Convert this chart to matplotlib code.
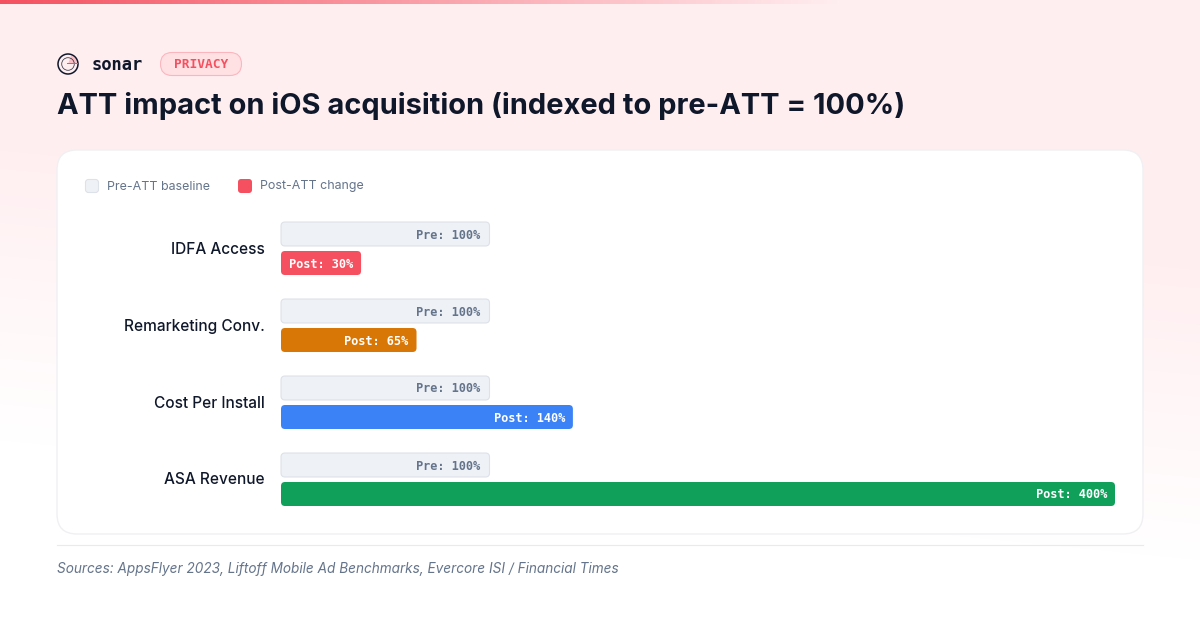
import numpy as np
import matplotlib
matplotlib.use("Agg")
import matplotlib.pyplot as plt
from matplotlib.patches import FancyBboxPatch, Circle, Wedge, Rectangle
from matplotlib.colors import to_rgb

categories = ["IDFA Access", "Remarketing Conv.", "Cost Per Install", "ASA Revenue"]
pre_values = [100, 100, 100, 100]
post_values = [30, 65, 140, 400]
post_colors = ["#F4505F", "#D97706", "#3B82F6", "#10A05A"]
title = "ATT impact on iOS acquisition (indexed to pre-ATT = 100%)"
source = "Sources: AppsFlyer 2023, Liftoff Mobile Ad Benchmarks, Evercore ISI / Financial Times"
legend_labels = ["Pre-ATT baseline", "Post-ATT change"]

W, H = 1200, 630
SANS = ["Inter", "DejaVu Sans"]
MONO = ["DejaVu Sans Mono"]
INK = "#0F172A"
SLATE = "#64748B"
RED = "#F4505F"
PRE_FILL = "#EEF1F6"
PRE_EDGE = "#DDE1E8"

fig = plt.figure(figsize=(W / 100, H / 100), dpi=100, facecolor="white")

# page layer in pixel coordinates
page = fig.add_axes([0, 0, 1, 1], zorder=0)
page.set_xlim(0, W)
page.set_ylim(H, 0)
page.axis("off")

yy, xx = np.mgrid[0:H, 0:W]
t = np.clip((yy + 0.10 * (W - xx)) / 560.0, 0, 1)
t = np.clip((t - 0.45) / 0.55, 0, 1)
top = np.array(to_rgb("#FFEEF0"))
bg = top[None, None, :] * (1 - t[..., None]) + t[..., None]
page.imshow(bg, extent=(0, W, H, 0), aspect="auto", zorder=0)

# top accent strip
strip = np.ones((1, W, 4))
strip[..., :3] = to_rgb(RED)
strip[..., 3] = np.clip(1 - np.arange(W) / 840.0, 0, 1)
page.imshow(strip, extent=(0, W, 4, 0), aspect="auto", zorder=1)
page.set_xlim(0, W)
page.set_ylim(H, 0)


def rrect(ax, x, y, w, h, r, fc, ec="none", lw=0.0, z=2):
    p = FancyBboxPatch((x, y), w, h, boxstyle=f"round,pad=0,rounding_size={r}",
                       fc=fc, ec=ec, lw=lw, zorder=z)
    ax.add_patch(p)
    return p


# logo
page.add_patch(Circle((68, 64), 10, fc="none", ec=INK, lw=1.1, zorder=3))
page.add_patch(Wedge((68, 64), 9, 290, 360, fc=RED, alpha=0.3, lw=0, zorder=3))
page.add_patch(Circle((68, 64), 6.3, fc="none", ec=INK, lw=0.6, alpha=0.8, zorder=3))
page.add_patch(Rectangle((67, 62.6), 11, 1.8, fc=RED, lw=0, zorder=4))
page.text(92, 64.5, "sonar", family=MONO, fontsize=12.3, fontweight="bold",
          color=INK, va="center", ha="left", zorder=3)

# badge
rrect(page, 160.5, 52.5, 81, 23, 11.5, "#FFE1E4", "#FBB6BD", 0.8)
page.text(201, 64, "PRIVACY", family=MONO, fontsize=9.3, fontweight="bold",
          color=RED, va="center", ha="center", zorder=3)

page.text(57, 105.5, title, family=SANS, fontsize=20.9, fontweight="bold",
          color=INK, va="center", ha="left", zorder=3)

# card
rrect(page, 57, 150, 1086, 384, 20, "white", "#F0F0F3", 1.0)

# legend
rrect(page, 85.5, 179.5, 13, 13, 3, PRE_FILL, PRE_EDGE, 0.8, z=3)
rrect(page, 238, 179, 14, 14, 3, RED, z=3)
page.text(107, 186.5, legend_labels[0], family=SANS, fontsize=8.95, color=SLATE,
          va="center", ha="left", zorder=3)
page.text(260, 186.5, legend_labels[1], family=SANS, fontsize=8.95, color=SLATE,
          va="center", ha="left", zorder=3)

# footer
page.plot([57, 1143], [544.5, 544.5], color="#EAEAEE", lw=0.8, zorder=3)
page.text(57, 569.5, source, family=SANS, fontsize=9.8, fontstyle="italic",
          color=SLATE, va="center", ha="left", zorder=3)

# chart layer: x maps 0-400 to px 281-1115, each row is 77 px
PX_L, PX_R, PX_T, PX_B = 281, 1115, 220, 528
ax = fig.add_axes([PX_L / W, 1 - PX_B / H, (PX_R - PX_L) / W, (PX_B - PX_T) / H],
                  zorder=2)
ax.set_xlim(0, 400)
ax.set_ylim(4, 0)
ax.axis("off")
ax.patch.set_alpha(0)

px_x = 400 / (PX_R - PX_L)
px_y = 1 / 77
aspect = px_y / px_x
min_post_width = 38.4  # bars never get narrower than their label
bar_h = 24 * px_y


def bar(xw, y, fc, ec="none", lw=0.0):
    p = FancyBboxPatch((0, y), xw, bar_h, boxstyle=f"round,pad=0,rounding_size={4 * px_x}",
                       mutation_aspect=aspect, fc=fc, ec=ec, lw=lw, zorder=2, clip_on=False)
    ax.add_patch(p)


for i, (cat, pre, post, col) in enumerate(zip(categories, pre_values, post_values, post_colors)):
    pre_y = i + 2 * px_y
    post_y = i + 31 * px_y
    bar(pre, pre_y, PRE_FILL, PRE_EDGE, 0.8)
    bar(max(post, min_post_width), post_y, col)
    ax.text(pre - 9.5 * px_x, pre_y + (bar_h - px_y) / 2, f"Pre: {pre}%", family=MONO, fontsize=8.6,
            fontweight="bold", color=SLATE, ha="right", va="center_baseline", zorder=3)
    ax.text(max(post, min_post_width) - 8 * px_x, post_y + (bar_h - px_y) / 2, f"Post: {post}%",
            family=MONO, fontsize=8.6, fontweight="bold", color="white",
            ha="right", va="center_baseline", zorder=3)
    ax.text(-16 * px_x, i + 29 * px_y, cat, family=SANS, fontsize=11.1, fontweight=500,
            color=INK, ha="right", va="center", zorder=3, clip_on=False)

fig.savefig("out.png", dpi=100, facecolor="white")
